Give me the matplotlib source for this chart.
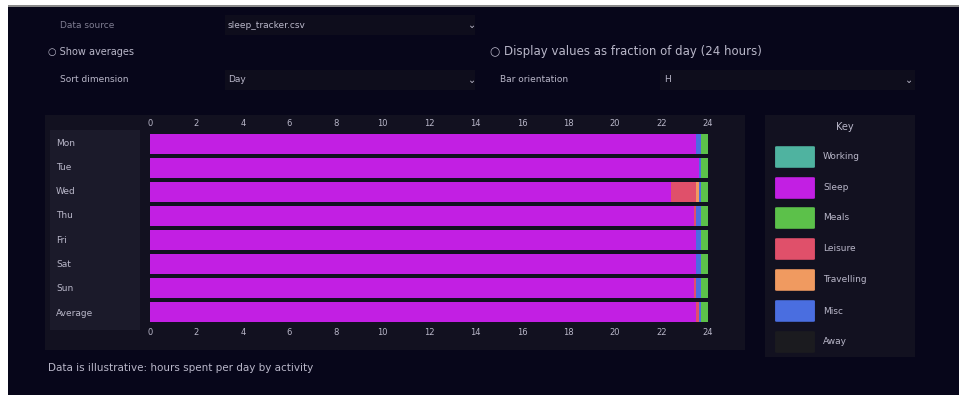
import numpy as np
import matplotlib.pyplot as plt
from matplotlib.patches import Rectangle, FancyBboxPatch

# ---- data (rough) ----
days = ["Mon", "Tue", "Wed", "Thu", "Fri", "Sat", "Sun", "Average"]
categories = ["Working", "Sleep", "Meals", "Leisure", "Travelling", "Misc", "Away"]
cat_colors = ["#4fb3a0", "#c21fe3", "#5cc14a", "#e0506a", "#f09a60", "#4a6ee0", "#1b1b1f"]

working = [0.0, 0.0, 0.0, 0.0, 0.0, 0.0, 0.0, 0.0]
sleep = [23.5, 23.6, 22.4, 23.4, 23.5, 23.5, 23.4, 23.5]
meals = [0.3, 0.3, 0.3, 0.3, 0.3, 0.3, 0.3, 0.3]
leisure = [0.0, 0.0, 1.1, 0.1, 0.0, 0.0, 0.1, 0.1]
travelling = [0.0, 0.0, 0.1, 0.0, 0.0, 0.0, 0.0, 0.0]
misc = [0.2, 0.1, 0.1, 0.2, 0.2, 0.2, 0.2, 0.1]
away = [0.0, 0.0, 0.0, 0.0, 0.0, 0.0, 0.0, 0.0]
series = [working, sleep, leisure, travelling, misc, meals, away]
series_cols = [cat_colors[0], cat_colors[1], cat_colors[3], cat_colors[4],
               cat_colors[5], cat_colors[2], cat_colors[6]]
xticks = list(range(0, 25, 2))

BG = "#07061a"; PANEL = "#121120"; PANEL2 = "#1b1a2a"; TXT = "#b9b7c9"; DIM = "#7f7d92"
W, H = 959, 401

def fx(px): return px / W
def fy(py): return 1 - py / H

fig = plt.figure(figsize=(9.59, 4.01), dpi=100, facecolor="white")

def box(x, y, w, h, color, z=0):
    fig.patches.append(Rectangle((fx(x), fy(y + h)), w / W, h / H, transform=fig.transFigure,
                                 facecolor=color, edgecolor="none", zorder=z))

box(8, 5, 951, 2, "#8a8a8a")
box(8, 7, 951, 388, BG)

# ---- top controls ----
fig.text(fx(60), fy(25), "Data source", color=DIM, fontsize=6.5, va="center")
box(225, 15, 250, 20, "#0e0d1c")
fig.text(fx(228), fy(25), "sleep_tracker.csv", color=TXT, fontsize=6.5, va="center")
fig.text(fx(468), fy(25), "⌄", color=TXT, fontsize=7, va="center")

fig.text(fx(48), fy(52), "○ Show averages", color=TXT, fontsize=7, va="center")
fig.text(fx(490), fy(52), "○ Display values as fraction of day (24 hours)",
         color=TXT, fontsize=8.5, va="center")

fig.text(fx(60), fy(80), "Sort dimension", color=TXT, fontsize=6.5, va="center")
box(225, 70, 250, 20, "#0e0d1c")
fig.text(fx(228), fy(80), "Day", color=TXT, fontsize=6.5, va="center")
fig.text(fx(468), fy(80), "⌄", color=TXT, fontsize=7, va="center")
fig.text(fx(500), fy(80), "Bar orientation", color=TXT, fontsize=6.5, va="center")
box(660, 70, 255, 20, "#0e0d1c")
fig.text(fx(664), fy(80), "H", color=TXT, fontsize=6.5, va="center")
fig.text(fx(905), fy(80), "⌄", color=TXT, fontsize=7, va="center")

# ---- chart panel ----
box(45, 115, 700, 235, PANEL)
box(50, 130, 90, 200, PANEL2)
ax = fig.add_axes([fx(150), fy(324), (722 - 150) / W, (324 - 132) / H], zorder=5)
ax.set_facecolor(PANEL)
y = np.arange(len(days))
left = np.zeros(len(days))
for vals, col in zip(series, series_cols):
    ax.barh(y, vals, left=left, height=0.86, color=col, edgecolor="none")
    left += np.array(vals)
ax.set_xlim(0, 24.6)
ax.set_ylim(len(days) - 0.5, -0.5)
ax.set_xticks(xticks)
ax.tick_params(axis="x", which="both", top=True, labeltop=True, bottom=True, labelbottom=True,
               colors=TXT, labelsize=6, length=0, pad=3)
ax.set_yticks([])
for s in ax.spines.values():
    s.set_visible(False)
for i, d in enumerate(days):
    fig.text(fx(56), fy(143 + i * 24.3), d, color=TXT, fontsize=6.5, va="center")

# ---- legend panel ----
box(765, 115, 150, 242, PANEL)
fig.text(fx(845), fy(127), "Key", color=TXT, fontsize=7, ha="center", va="center")
leg_y = [157, 188, 218, 249, 280, 311, 342]
for cy, name, col in zip(leg_y, categories, cat_colors):
    fig.patches.append(FancyBboxPatch((fx(777), fy(cy + 10)), 36 / W, 20 / H,
                                      boxstyle="round,pad=0.002", transform=fig.transFigure,
                                      facecolor=col, edgecolor="none"))
    fig.text(fx(823), fy(cy), name, color=TXT, fontsize=6.5, va="center")

# ---- caption ----
fig.text(fx(48), fy(368), "Data is illustrative: hours spent per day by activity",
         color=TXT, fontsize=7.5, va="center")

fig.savefig("out.png", dpi=100, facecolor="white")
